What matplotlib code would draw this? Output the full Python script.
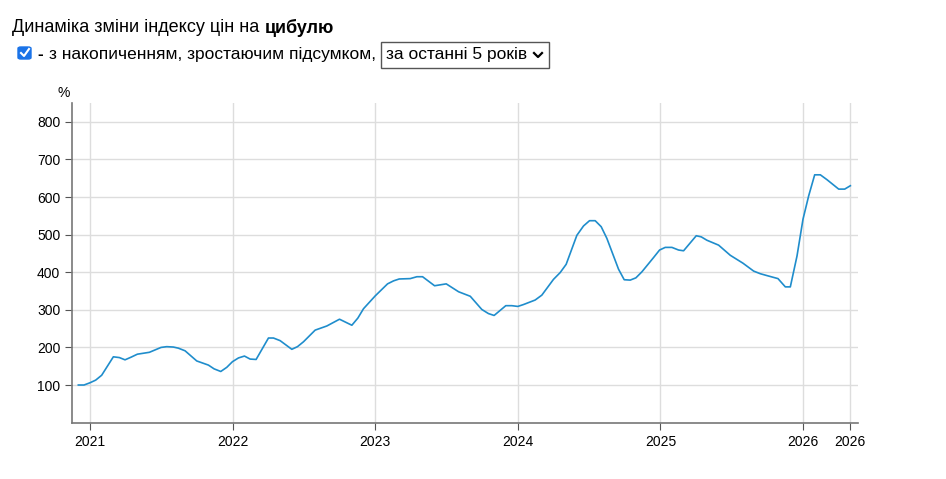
import matplotlib
matplotlib.use("Agg")
import matplotlib.pyplot as plt
from matplotlib.patches import FancyBboxPatch, Rectangle
from matplotlib.lines import Line2D

plt.rcParams['font.family'] = ['Liberation Sans', 'DejaVu Sans']

# zoom-read coordinates converted to decimal years / values
xz1 = [55,72,90,107,125,160,178,195,213,232,268,303,320,340,355,375,410,445,462,482,500,517,535,553,570,588,625,640,660,695,712,730,765,800,838,875,893,910,945,982,1000,1017,1050,1070,1087,1123,1158,1195,1230]
v1 = [100,100,106,113,126,175,173,167,174,182,187,200,202,201,198,191,164,153,143,136,147,162,172,177,169,168,225,225,218,195,202,215,246,257,275,259,278,303,337,369,377,382,383,388,388,364,369,348,336]
xz2 = [65,85,102,137,155,173,190,225,245,280,300,318,350,370,388,405,423,440,475,492,510,527,545,580,598,615,635,655,670,708,723,740,775,810,848,880,900,920,953,975,990,1010,1028,1045,1063,1080,1100,1135,1153,1170]
v2 = [301,290,285,311,311,309,314,326,339,381,399,421,498,523,537,537,521,490,408,380,379,385,401,439,459,466,466,459,457,497,494,485,472,445,424,403,396,391,383,361,361,443,541,603,659,659,646,621,621,630]
years = [2021 + (x - 90) / 427.5 for x in xz1] + [2024 + (x - 173) / 427.5 for x in xz2]
values = v1 + v2

tick_pos = [2021, 2022, 2023, 2024, 2025, 2026, 2024 + (1170 - 173) / 427.5]
tick_labels = ["2021", "2022", "2023", "2024", "2025", "2026", "2026"]
yticks = [100, 200, 300, 400, 500, 600, 700, 800]

fig = plt.figure(figsize=(9.46, 4.79), dpi=100)
ax = fig.add_axes([72/946, 1-423/479, (858-72)/946, (423-103)/479])
ax.plot(years, values, color='#1f8dcc', lw=1.2)
ax.set_xlim(2021 - 18/142.6, 2026 + 55/142.6)
ax.set_ylim(-1, 850)
ax.set_yticks(yticks)
ax.set_xticks(tick_pos)
ax.set_xticklabels(tick_labels)
for t in tick_pos:
    ax.axvline(t, color='#dddddd', lw=1, zorder=0)
for t in yticks:
    ax.axhline(t, color='#dddddd', lw=1, zorder=0)
for s in ['top', 'right']:
    ax.spines[s].set_visible(False)
for s in ['left', 'bottom']:
    ax.spines[s].set_color('#777777')
    ax.spines[s].set_linewidth(1.2)
ax.tick_params(labelsize=10, colors='#000000', length=5, color='#555555')
fig.text(57/946, 1-93/479, "%", fontsize=10, ha='left', va='center')

# header
t1 = fig.text(12/946, 1-28/479, "Динаміка зміни індексу цін на ", fontsize=13, va='center')
fig.canvas.draw()
bb = t1.get_window_extent()
fig.text(bb.x1/946, 1-28/479, "цибулю", fontsize=13, fontweight='bold', va='center')
fig.patches.append(FancyBboxPatch((18/946, 1-59/479), 13/946, 12/479, boxstyle="round,pad=0,rounding_size=0.003",
                                  transform=fig.transFigure, facecolor='#1a73e8', edgecolor='#1a73e8'))
fig.lines.append(Line2D([21/946, 24/946, 29/946], [1-53/479, 1-56/479, 1-49/479], transform=fig.transFigure, color='white', lw=1.5))
fig.text(37/946, 1-55/479, "-", fontsize=12.5, va='center', fontweight='bold')
fig.text(49/946, 1-55/479, "з накопиченням, зростаючим підсумком,", fontsize=12.5, va='center')
fig.patches.append(Rectangle((381/946, 1-68/479), 168/946, 26/479, transform=fig.transFigure,
                             facecolor='white', edgecolor='#555555', lw=1))
fig.text(386/946, 1-55/479, "за останні 5 років", fontsize=12.5, va='center')
fig.lines.append(Line2D([534/946, 538/946, 542/946], [1-53/479, 1-57/479, 1-53/479], transform=fig.transFigure, color='black', lw=1.6))

fig.savefig("out.png", dpi=100)
